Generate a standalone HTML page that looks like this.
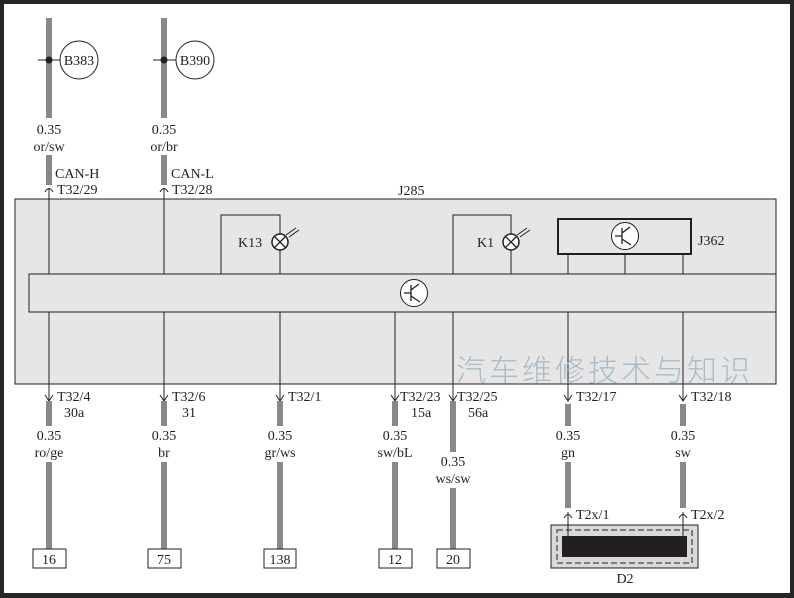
<!DOCTYPE html>
<html><head><meta charset="utf-8"><style>
html,body{margin:0;padding:0;background:#262626;}
svg{display:block;}
text{font-family:"Liberation Serif",serif;font-size:14px;fill:#231f20;}
</style></head><body>
<svg width="794" height="598" viewBox="0 0 794 598" xmlns="http://www.w3.org/2000/svg">
<rect x="0" y="0" width="794" height="598" fill="#262626"/>
<rect x="4" y="4" width="786" height="589" fill="#fff"/>
<rect x="15" y="199" width="761" height="185" fill="#e6e6e6" stroke="#231f20" stroke-width="1"/>
<rect x="29" y="274" width="747" height="38" fill="#e6e6e6" stroke="#231f20" stroke-width="1"/>
<text x="398" y="195">J285</text>
<polyline points="221,274 221,215 280,215 280,234" fill="none" stroke="#231f20"/>
<line x1="280" y1="250" x2="280" y2="274" stroke="#231f20"/>
<circle cx="280" cy="242" r="8" fill="#fff" stroke="#231f20" stroke-width="1.5"/>
<path d="M274.5,236.5 L285.5,247.5 M285.5,236.5 L274.5,247.5" stroke="#231f20" stroke-width="1.3"/>
<path d="M286,235 L296,228 M289,237 L299,230" stroke="#231f20"/>
<text x="238" y="247">K13</text>
<polyline points="453,274 453,215 511,215 511,234" fill="none" stroke="#231f20"/>
<line x1="511" y1="250" x2="511" y2="274" stroke="#231f20"/>
<circle cx="511" cy="242" r="8" fill="#fff" stroke="#231f20" stroke-width="1.5"/>
<path d="M505.5,236.5 L516.5,247.5 M516.5,236.5 L505.5,247.5" stroke="#231f20" stroke-width="1.3"/>
<path d="M517,235 L527,228 M520,237 L530,230" stroke="#231f20"/>
<text x="477" y="247">K1</text>
<rect x="558" y="219" width="133" height="35" fill="#e6e6e6" stroke="#231f20" stroke-width="2"/>
<path d="M568,255 V274 M625,255 V274 M683,255 V274" stroke="#231f20"/>
<circle cx="625" cy="236" r="13.5" fill="#fff" stroke="#231f20"/>
<path d="M615,236 H622 M622,228 V244 M622,233 L630,227 M622,239 L631,245" stroke="#231f20" fill="none" stroke-width="1.3"/>
<text x="698" y="245">J362</text>
<circle cx="414" cy="293" r="13.5" fill="#fff" stroke="#231f20"/>
<path d="M404,293 H411 M411,285 V301 M411,290 L419,284 M411,296 L420,302" stroke="#231f20" fill="none" stroke-width="1.3"/>
<g fill="none" stroke="#888" stroke-width="6">
<line x1="49" y1="18" x2="49" y2="118"/><line x1="49" y1="155" x2="49" y2="185"/>
<line x1="164" y1="18" x2="164" y2="118"/><line x1="164" y1="155" x2="164" y2="185"/>
</g>
<path d="M38,60 H61 M153,60 H176" stroke="#231f20"/>
<circle cx="49" cy="60" r="3.5" fill="#231f20"/><circle cx="164" cy="60" r="3.5" fill="#231f20"/>
<circle cx="79" cy="60" r="19" fill="#fff" stroke="#231f20"/><circle cx="195" cy="60" r="19" fill="#fff" stroke="#231f20"/>
<text x="79" y="65" text-anchor="middle">B383</text><text x="195" y="65" text-anchor="middle">B390</text>
<text x="49" y="134" text-anchor="middle">0.35</text><text x="49" y="151" text-anchor="middle">or/sw</text>
<text x="164" y="134" text-anchor="middle">0.35</text><text x="164" y="151" text-anchor="middle">or/br</text>
<path d="M45,192 Q49,185 53,192 M160,192 Q164,185 168,192" fill="none" stroke="#231f20"/>
<path d="M49,188 V274 M164,188 V274" stroke="#231f20"/>
<text x="55" y="178">CAN-H</text><text x="57" y="194">T32/29</text>
<text x="171" y="178">CAN-L</text><text x="172" y="194">T32/28</text>
<g stroke="#231f20" fill="none">
<path d="M49,312 V401 M164,312 V401 M280,312 V401 M395,312 V401 M453,312 V401 M568,312 V401 M683,312 V401"/>
<path d="M45,395 L49,401 L53,395 M160,395 L164,401 L168,395 M276,395 L280,401 L284,395 M391,395 L395,401 L399,395 M449,395 L453,401 L457,395 M564,395 L568,401 L572,395 M679,395 L683,401 L687,395"/>
</g>
<text x="456" y="381" style="font-family:'Noto Sans CJK SC',sans-serif;font-size:30px;fill:#a9bccb;letter-spacing:3px;font-weight:300">汽车维修技术与知识</text>
<g fill="none" stroke="#888" stroke-width="6">
<path d="M49,401 V426 M49,462 V549 M164,401 V426 M164,462 V549 M280,401 V426 M280,462 V549 M395,401 V426 M395,462 V549 M453,401 V452 M453,488 V549 M568,404 V426 M568,462 V508 M683,404 V426 M683,462 V508"/>
</g>
<text x="57" y="401">T32/4</text><text x="64" y="417">30a</text>
<text x="172" y="401">T32/6</text><text x="182" y="417">31</text>
<text x="288" y="401">T32/1</text>
<text x="400" y="401">T32/23</text><text x="411" y="417">15a</text>
<text x="457" y="401">T32/25</text><text x="468" y="417">56a</text>
<text x="576" y="401">T32/17</text>
<text x="691" y="401">T32/18</text>
<g text-anchor="middle">
<text x="49" y="440">0.35</text><text x="49" y="457">ro/ge</text>
<text x="164" y="440">0.35</text><text x="164" y="457">br</text>
<text x="280" y="440">0.35</text><text x="280" y="457">gr/ws</text>
<text x="395" y="440">0.35</text><text x="395" y="457">sw/bL</text>
<text x="453" y="466">0.35</text><text x="453" y="483">ws/sw</text>
<text x="568" y="440">0.35</text><text x="568" y="457">gn</text>
<text x="683" y="440">0.35</text><text x="683" y="457">sw</text>
</g>
<g fill="#fff" stroke="#231f20">
<rect x="33" y="549" width="33" height="19"/><rect x="148" y="549" width="33" height="19"/>
<rect x="264" y="549" width="32" height="19"/><rect x="379" y="549" width="33" height="19"/>
<rect x="437" y="549" width="33" height="19"/>
</g>
<g text-anchor="middle">
<text x="49" y="564">16</text><text x="164" y="564">75</text><text x="280" y="564">138</text><text x="395" y="564">12</text><text x="453" y="564">20</text>
</g>
<rect x="551" y="525" width="147" height="43" fill="#d9d9d9" stroke="#231f20"/>
<rect x="557" y="530" width="135" height="33" fill="none" stroke="#231f20" stroke-dasharray="6,3"/>
<rect x="562" y="536" width="125" height="21" fill="#231f20"/>
<path d="M568,512 V536 M683,512 V536" stroke="#231f20"/>
<path d="M564,518 Q568,511 572,518 M679,518 Q683,511 687,518" fill="none" stroke="#231f20"/>
<text x="576" y="519">T2x/1</text><text x="691" y="519">T2x/2</text>
<text x="625" y="583" text-anchor="middle">D2</text>
</svg>
</body></html>
